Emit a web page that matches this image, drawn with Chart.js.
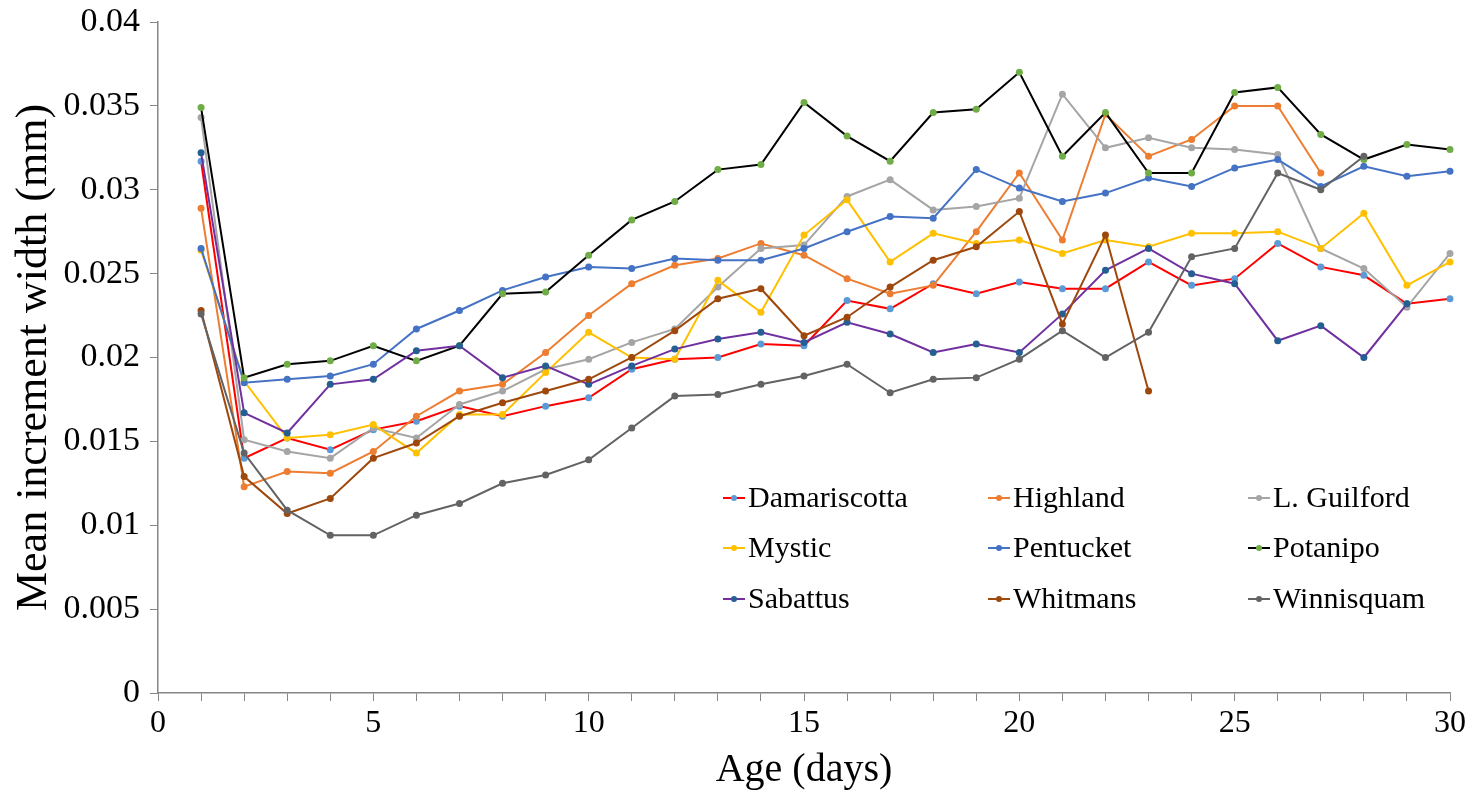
<!DOCTYPE html>
<html>
<head>
<meta charset="utf-8">
<script src="https://cdn.jsdelivr.net/npm/chart.js@4.4.1/dist/chart.umd.min.js"></script>
<style>
  html, body { margin: 0; padding: 0; background: #fff; }
  canvas { display: block; }
</style>
</head>
<body>
<canvas id="incrementChart" width="1474" height="799"></canvas>
<script>
// Age in days
const days = [1, 2, 3, 4, 5, 6, 7, 8, 9, 10, 11, 12, 13, 14, 15, 16, 17, 18, 19, 20, 21, 22, 23, 24, 25, 26, 27, 28, 29, 30];

// Mean increment width (mm) per site
const damariscotta = [0.0317, 0.0140, 0.0152, 0.0145, 0.0157, 0.0162, 0.0171, 0.0165, 0.0171, 0.0176, 0.0193, 0.0199, 0.0200, 0.0208, 0.0207, 0.0234, 0.0229, 0.0244, 0.0238, 0.0245, 0.0241, 0.0241, 0.0257, 0.0243, 0.0247, 0.0268, 0.0254, 0.0249, 0.0232, 0.0235];
const highland = [0.0289, 0.0123, 0.0132, 0.0131, 0.0144, 0.0165, 0.0180, 0.0184, 0.0203, 0.0225, 0.0244, 0.0255, 0.0259, 0.0268, 0.0261, 0.0247, 0.0238, 0.0243, 0.0275, 0.0310, 0.0270, 0.0345, 0.0320, 0.0330, 0.0350, 0.0350, 0.0310];
const lGuilford = [0.0343, 0.0151, 0.0144, 0.0140, 0.0158, 0.0152, 0.0172, 0.0180, 0.0193, 0.0199, 0.0209, 0.0217, 0.0242, 0.0265, 0.0267, 0.0296, 0.0306, 0.0288, 0.0290, 0.0295, 0.0357, 0.0325, 0.0331, 0.0325, 0.0324, 0.0321, 0.0265, 0.0253, 0.0230, 0.0262];
const mystic = [0.0264, 0.0186, 0.0152, 0.0154, 0.0160, 0.0143, 0.0166, 0.0166, 0.0191, 0.0215, 0.0200, 0.0199, 0.0246, 0.0227, 0.0273, 0.0294, 0.0257, 0.0274, 0.0268, 0.0270, 0.0262, 0.0270, 0.0266, 0.0274, 0.0274, 0.0275, 0.0265, 0.0286, 0.0243, 0.0257];
const pentucket = [0.0265, 0.0185, 0.0187, 0.0189, 0.0196, 0.0217, 0.0228, 0.0240, 0.0248, 0.0254, 0.0253, 0.0259, 0.0258, 0.0258, 0.0265, 0.0275, 0.0284, 0.0283, 0.0312, 0.0301, 0.0293, 0.0298, 0.0307, 0.0302, 0.0313, 0.0318, 0.0302, 0.0314, 0.0308, 0.0311];
const potanipo = [0.0349, 0.0188, 0.0196, 0.0198, 0.0207, 0.0198, 0.0207, 0.0238, 0.0239, 0.0261, 0.0282, 0.0293, 0.0312, 0.0315, 0.0352, 0.0332, 0.0317, 0.0346, 0.0348, 0.0370, 0.0320, 0.0346, 0.0310, 0.0310, 0.0358, 0.0361, 0.0333, 0.0318, 0.0327, 0.0324];
const sabattus = [0.0322, 0.0167, 0.0155, 0.0184, 0.0187, 0.0204, 0.0207, 0.0188, 0.0195, 0.0184, 0.0195, 0.0205, 0.0211, 0.0215, 0.0209, 0.0221, 0.0214, 0.0203, 0.0208, 0.0203, 0.0226, 0.0252, 0.0265, 0.0250, 0.0244, 0.0210, 0.0219, 0.0200, 0.0232];
const whitmans = [0.0228, 0.0129, 0.0107, 0.0116, 0.0140, 0.0149, 0.0165, 0.0173, 0.0180, 0.0187, 0.0200, 0.0216, 0.0235, 0.0241, 0.0213, 0.0224, 0.0242, 0.0258, 0.0266, 0.0287, 0.0220, 0.0273, 0.0180];
const winnisquam = [0.0226, 0.0143, 0.0109, 0.0094, 0.0094, 0.0106, 0.0113, 0.0125, 0.0130, 0.0139, 0.0158, 0.0177, 0.0178, 0.0184, 0.0189, 0.0196, 0.0179, 0.0187, 0.0188, 0.0199, 0.0216, 0.0200, 0.0215, 0.0260, 0.0265, 0.0310, 0.0300, 0.0320];

const siteNames = ['Damariscotta', 'Highland', 'L. Guilford', 'Mystic', 'Pentucket', 'Potanipo', 'Sabattus', 'Whitmans', 'Winnisquam'];
const yTickLabels = ['0', '0.005', '0.01', '0.015', '0.02', '0.025', '0.03', '0.035', '0.04'];
const xTickLabels = ['0', '5', '10', '15', '20', '25', '30'];

const seriesValues = [damariscotta, highland, lGuilford, mystic, pentucket, potanipo, sabattus, whitmans, winnisquam];
// line colour / marker colour, Excel-style palette
const lineColors = ['#FF0000', '#ED7D31', '#A5A5A5', '#FFC000', '#4472C4', '#000000', '#7030A0', '#9E480E', '#636363'];
const markerColors = ['#5B9BD5', '#ED7D31', '#A5A5A5', '#FFC000', '#4472C4', '#70AD47', '#255E91', '#9E480E', '#636363'];

const serif = 'Liberation Serif';
const axisColor = '#868686';

// legend drawn as a 3x3 grid inside the plot, like the original
const legendCols = [723, 988, 1248];
const legendRows = [498, 548, 599];
const gridLegend = {
    id: 'gridLegend',
    afterDraw(chart) {
        const c = chart.ctx;
        c.save();
        chart.data.datasets.forEach((ds, i) => {
            const x = legendCols[i % 3];
            const y = legendRows[Math.floor(i / 3)];
            c.strokeStyle = ds.borderColor;
            c.lineWidth = 2;
            c.beginPath();
            c.moveTo(x, y);
            c.lineTo(x + 22, y);
            c.stroke();
            c.fillStyle = ds.pointBackgroundColor;
            c.beginPath();
            c.arc(x + 11, y, 3, 0, Math.PI * 2);
            c.fill();
            c.fillStyle = '#000';
            c.font = '30px "' + serif + '"';
            c.textBaseline = 'middle';
            c.textAlign = 'left';
            c.fillText(ds.label, x + 25, y + 1);
        });
        c.restore();
    }
};

const ctx = document.getElementById('incrementChart').getContext('2d');

const chart = new Chart(ctx, {
    type: 'line',
    data: {
        labels: days,
        datasets: siteNames.map((name, i) => ({
            label: name,
            data: seriesValues[i],
            borderColor: lineColors[i],
            backgroundColor: markerColors[i],
            pointBackgroundColor: markerColors[i],
            pointBorderColor: markerColors[i],
            pointRadius: 3.5,
            pointBorderWidth: 0,
            borderWidth: 2,
            tension: 0,
            fill: false,
            clip: false,
            order: siteNames.length - i
        }))
    },
    options: {
        responsive: false,
        animation: false,
        devicePixelRatio: 1,
        layout: {
            padding: { top: 22, right: 24, left: 0, bottom: 0 }
        },
        plugins: {
            legend: { display: false },
            tooltip: { enabled: false }
        },
        scales: {
            x: {
                type: 'linear',
                min: 0,
                max: 30,
                afterFit: (scale) => { scale.height = 106; },
                border: { color: axisColor, width: 1.5 },
                grid: {
                    drawOnChartArea: false,
                    drawTicks: true,
                    tickLength: 8,
                    color: axisColor
                },
                ticks: {
                    stepSize: 1,
                    autoSkip: false,
                    maxRotation: 0,
                    padding: 3,
                    color: '#000',
                    font: { family: serif, size: 32 },
                    callback: (v) => (v % 5 === 0 ? xTickLabels[v / 5] : '')
                },
                title: {
                    display: true,
                    text: 'Age (days)',
                    color: '#000',
                    font: { family: serif, size: 40, lineHeight: 1 },
                    padding: { top: 0, bottom: 9 }
                }
            },
            y: {
                min: 0,
                max: 0.04,
                afterFit: (scale) => {
                    scale.width = 158;
                    scale.paddingTop = 0;
                    scale.paddingBottom = 0;
                },
                afterBuildTicks: (scale) => {
                    scale.ticks = yTickLabels.map((t, i) => ({ value: i * 0.005 }));
                },
                border: { color: axisColor, width: 1.5 },
                grid: {
                    drawOnChartArea: false,
                    drawTicks: true,
                    tickLength: 8,
                    color: axisColor
                },
                ticks: {
                    padding: 10,
                    color: '#000',
                    font: { family: serif, size: 34 },
                    callback: (v, idx) => yTickLabels[idx]
                },
                title: {
                    display: true,
                    text: 'Mean increment width (mm)',
                    color: '#000',
                    font: { family: serif, size: 44, lineHeight: 1 },
                    padding: { top: 12, bottom: 0 }
                }
            }
        }
    },
    plugins: [gridLegend]
});
</script>
</body>
</html>
